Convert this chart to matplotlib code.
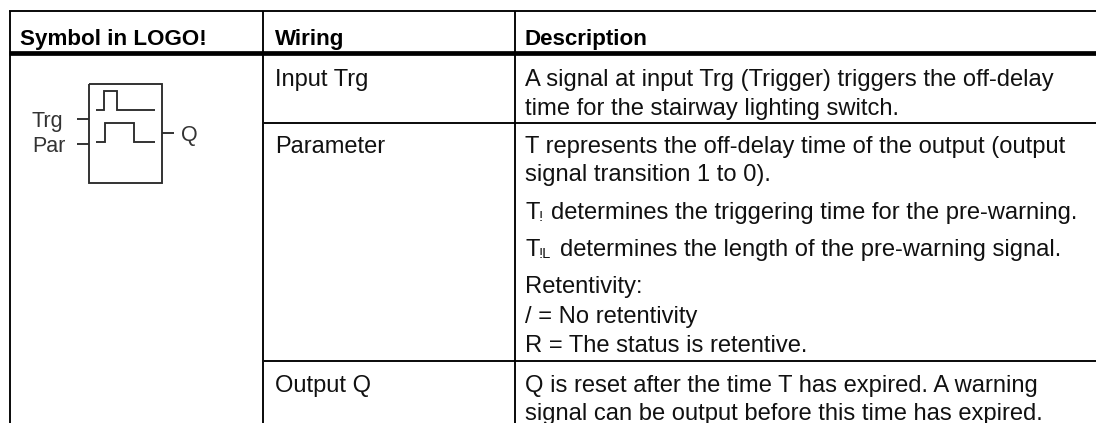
"""
tabla del bloque de LOGO! : simbolo, conexiones y descripcion
"""

import matplotlib
matplotlib.use("Agg")
import matplotlib.pyplot as plt

W = 1096
H = 423

plt.rcParams['font.family'] = ['Liberation Sans', 'DejaVu Sans']

headers = ["Symbol in LOGO!", "Wiring", "Description"]
header_x = [20, 275, 525]
wiring = ["Input Trg", "Parameter", "Output Q"]
wiring_y = [86, 153, 392]

desc_lines = [
    "A signal at input Trg (Trigger) triggers the off-delay",
    "time for the stairway lighting switch.",
    "T represents the off-delay time of the output (output",
    "signal transition 1 to 0).",
    "Retentivity:",
    "/ = No retentivity",
    "R = The status is retentive.",
    "Q is reset after the time T has expired. A warning",
    "signal can be output before this time has expired.",
]
desc_y = [86, 115, 153, 181, 293, 323, 352, 392, 420]

fig = plt.figure(figsize=(W / 100, H / 100), dpi=100)
ax = fig.add_axes([0, 0, 1, 1])
ax.set_xlim(0, W)
ax.set_ylim(H, 0)
ax.axis("off")

FS = 17.15
LW = 1.35
TXT = "#111111"


def linea(xs, ys, lw=LW, color="black"):
    ax.plot(xs, ys, color=color, lw=lw, solid_capstyle="butt", solid_joinstyle="miter")


# rejilla de la tabla
linea([9, W], [11, 11])
linea([9, W], [53, 53], lw=3.4)
linea([264, W], [123, 123])
linea([264, W], [361, 361])
linea([10, 10], [11, H])
linea([263, 263], [11, H])
linea([515, 515], [11, H])

# cabecera
for x, s in zip(header_x, headers):
    ax.text(x, 45, s, fontsize=16.1, fontweight="bold", va="baseline", color="black")

for y, s in zip(wiring_y, wiring):
    ax.text(275, y, s, fontsize=17, va="baseline", color=TXT)

for y, s in zip(desc_y, desc_lines):
    ax.text(525, y, s, fontsize=FS, va="baseline", color=TXT)

# lineas con subindice
ax.text(525, 219, "T", fontsize=FS, va="baseline", color=TXT)
ax.text(539, 221, "!", fontsize=10.5, va="baseline", color=TXT)
ax.text(551, 219, "determines the triggering time for the pre-warning.", fontsize=FS, va="baseline", color=TXT)
ax.text(525, 256, "T", fontsize=FS, va="baseline", color=TXT)
ax.text(539, 258, "!L", fontsize=10.5, va="baseline", color=TXT)
ax.text(560, 256, "determines the length of the pre-warning signal.", fontsize=FS, va="baseline", color=TXT)

# simbolo del bloque
GR = "#2b2b2b"
linea([89, 162, 162, 89, 89], [84, 84, 183, 183, 84], color=GR)
linea([96, 104, 104, 117, 117, 155], [110, 110, 91, 91, 110, 110], color=GR)
linea([96, 105, 105, 134, 134, 155], [142, 142, 123, 123, 142, 142], color=GR)
linea([77, 89], [119, 119], color=GR)
linea([77, 89], [144, 144], color=GR)
linea([162, 174], [133, 133], color=GR)
ax.text(32, 127, "Trg", fontsize=15.5, va="baseline", color="#333333")
ax.text(32, 152, "Par", fontsize=15.5, va="baseline", color="#333333")
ax.text(181, 141, "Q", fontsize=15.5, va="baseline", color="#333333")

fig.savefig("out.png", dpi=100)
